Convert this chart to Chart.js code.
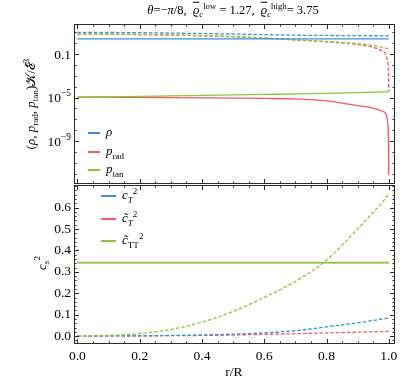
<!DOCTYPE html>
<html>
<head>
<meta charset="utf-8">
<script src="https://cdn.jsdelivr.net/npm/chart.js@4.4.1/dist/chart.umd.min.js"></script>
<style>
  body { margin: 0; background: #fff; }
  #wrap { position: relative; width: 407px; height: 384px; overflow: hidden; font-family: 'Liberation Serif', serif; color: #000; }
  canvas { position: absolute; left: 0; }
  .lbl { position: absolute; white-space: nowrap; line-height: 1; }
  .rot { transform: translate(-50%, -50%) rotate(-90deg); }
  .leg { position: absolute; font-size: 13px; white-space: nowrap; line-height: 1; }
  .leg span.sw { display: inline-block; vertical-align: middle; height: 1.3px; margin-right: 6px; }
  sub, sup { font-size: 70%; line-height: 0; }
  .ov { text-decoration: overline; }
</style>
</head>
<body>
<div id="wrap">
  <canvas id="topChart" width="407" height="190" style="top:0"></canvas>
  <canvas id="botChart" width="407" height="210" style="top:174px"></canvas>

  <div class="lbl" style="left:233px; top:10px; transform:translate(-50%,-50%); font-size:12.5px;">
    <i>θ</i>=−<i>π</i>/8,&nbsp; <i class="ov">ϱ</i><sub><i>c</i></sub><sup>low</sup> = 1.27,&nbsp; <i class="ov">ϱ</i><sub><i>c</i></sub><sup>high</sup>= 3.75
  </div>

  <div class="lbl rot" style="left:30px; top:104px; font-size:13px;">
    (<i>ρ</i>, <i>p</i><sub>rad</sub>, <i>p</i><sub>tan</sub>)𝒦/ℰ<sup>3</sup>
  </div>
  <div class="lbl rot" style="left:41px; top:263px; font-size:13px;">
    <i>c</i><sub><i>s</i></sub><sup>2</sup>
  </div>
  <div class="lbl" style="left:234px; top:372px; transform:translate(-50%,-50%); font-size:13.5px;">r/R</div>

  <div class="leg" style="left:88px; top:125px;"><span class="sw" style="width:12px;background:#3b8fd3"></span><i>ρ</i></div>
  <div class="leg" style="left:88px; top:144px;"><span class="sw" style="width:12px;background:#f45b66"></span><i>p</i><sub>rad</sub></div>
  <div class="leg" style="left:88px; top:162px;"><span class="sw" style="width:12px;background:#8cc63f"></span><i>p</i><sub>tan</sub></div>

  <div class="leg" style="left:101px; top:188px;"><span class="sw" style="width:15px;background:#3b8fd3"></span><i>c</i><sub><i>T</i></sub><sup>2</sup></div>
  <div class="leg" style="left:101px; top:211px;"><span class="sw" style="width:15px;background:#f45b66"></span><i>c̃</i><sub><i>T</i></sub><sup>2</sup></div>
  <div class="leg" style="left:101px; top:233px;"><span class="sw" style="width:15px;background:#8cc63f"></span><i>c̃</i><sub>TT</sub><sup>2</sup></div>
</div>

<script>
// radial grid r/R shared by all curves
const rGrid = [0, 0.1, 0.2, 0.3, 0.4, 0.5, 0.6, 0.7, 0.8, 0.9, 0.95, 0.98, 0.99, 0.995, 0.999, 1.0];

// top panel (log scale), solid = low density, dashed = high density
const rhoLow   = [2.5, 2.5, 2.5, 2.5, 2.5, 2.5, 2.5, 2.5, 2.5, 2.5, 2.5, 2.5, 2.5, 2.5, 2.5, 2.5];
const rhoHigh  = [10, 9.8, 9.3, 8.6, 7.8, 7.0, 6.2, 5.5, 5.2, 5.0, 4.9, 4.85, 4.8, 4.8, 4.8, 4.8];
const pRadLow  = [1.1e-5, 1.08e-5, 1.05e-5, 1.0e-5, 9.5e-6, 9.0e-6, 8.4e-6, 7.6e-6, 5.0e-6, 1.8e-6, 1.1e-6, 5.5e-7, 3.5e-7, 1e-7, 1e-9, 8e-13];
const pRadHigh = [6.8, 6.7, 6.3, 5.7, 4.9, 4.0, 3.0, 2.0, 1.35, 0.75, 0.42, 0.18, 0.1, 0.03, 0.002, 3.7e-5];
const pTanLow  = [1.1e-5, 1.2e-5, 1.3e-5, 1.45e-5, 1.6e-5, 1.75e-5, 1.95e-5, 2.15e-5, 2.45e-5, 2.85e-5, 3.1e-5, 3.3e-5, 3.4e-5, 3.45e-5, 3.5e-5, 3.5e-5];
const pTanHigh = [6.8, 6.7, 6.3, 5.7, 4.9, 4.0, 3.0, 2.0, 1.45, 0.9, 0.62, 0.42, 0.36, 0.32, 0.3, 0.29];

// bottom panel, sound speeds squared
const cT2Low   = [0.343, 0.343, 0.343, 0.343, 0.343, 0.343, 0.343, 0.343, 0.343, 0.343, 0.343, 0.343, 0.343, 0.343, 0.343, 0.343];
const cTt2Low  = [0.343, 0.343, 0.343, 0.343, 0.343, 0.343, 0.343, 0.343, 0.343, 0.343, 0.343, 0.343, 0.343, 0.343, 0.343, 0.343];
const cTT2Low  = [0.343, 0.343, 0.343, 0.343, 0.343, 0.343, 0.343, 0.343, 0.343, 0.343, 0.343, 0.343, 0.343, 0.343, 0.343, 0.343];
const cT2High  = [0, 0.0005, 0.001, 0.003, 0.005, 0.009, 0.015, 0.025, 0.043, 0.062, 0.073, 0.08, 0.082, 0.083, 0.085, 0.085];
const cTt2High = [0, 0.0005, 0.001, 0.002, 0.003, 0.005, 0.008, 0.011, 0.015, 0.018, 0.02, 0.021, 0.022, 0.022, 0.022, 0.022];
const cTT2High = [0, 0.003, 0.012, 0.031, 0.065, 0.115, 0.18, 0.255, 0.355, 0.5, 0.578, 0.625, 0.645, 0.655, 0.665, 0.67];

// ticks
const xTickVals = [0, 0.2, 0.4, 0.6, 0.8, 1.0];
const topTickVals = [0.1, 1e-5, 1e-9];
const topTickLabels = [['0.1', ''], ['10', '−5'], ['10', '−9']];
const botTickVals = [0, 0.1, 0.2, 0.3, 0.4, 0.5, 0.6];

const BLUE = '#3b8fd3', RED = '#f45b66', GREEN = '#8cc63f';
const FONT = "'Liberation Serif', serif";

const pts = arr => rGrid.map((r, i) => ({ x: r, y: arr[i] }));
const ds = (arr, color, dashed, width) => ({
  data: pts(arr), borderColor: color, borderWidth: width || 1.3, pointRadius: 0,
  borderDash: dashed ? [3.5, 2] : [], cubicInterpolationMode: 'monotone', fill: false
});

const range = (a, b, step) => { const out = []; for (let v = a; v <= b + 1e-9; v += step) out.push(+v.toFixed(4)); return out; };

// frame with inward ticks, like the reference
const framePlugin = {
  id: 'frame',
  afterDraw(chart, args, o) {
    const { ctx, chartArea: a, scales: { x, y } } = chart;
    ctx.save();
    ctx.strokeStyle = '#2a2a2a';
    ctx.lineWidth = 1;
    ctx.strokeRect(Math.round(a.left) + 0.5, Math.round(a.top) + 0.5, Math.round(a.right - a.left) - 1, Math.round(a.bottom - a.top) - 1);
    ctx.beginPath();
    const xt = (v, len) => {
      const px = Math.round(x.getPixelForValue(v)) + 0.5;
      ctx.moveTo(px, a.bottom); ctx.lineTo(px, a.bottom - len);
      ctx.moveTo(px, a.top); ctx.lineTo(px, a.top + len);
    };
    const yt = (v, len) => {
      const py = Math.round(y.getPixelForValue(v)) + 0.5;
      if (py < a.top || py > a.bottom) return;
      ctx.moveTo(a.left, py); ctx.lineTo(a.left + len, py);
      ctx.moveTo(a.right, py); ctx.lineTo(a.right - len, py);
    };
    o.xMinor.forEach(v => xt(v, 2.5));
    o.xMajor.forEach(v => xt(v, 5));
    o.yMinor.forEach(v => yt(v, 2.5));
    o.yMajor.forEach(v => yt(v, 5));
    ctx.stroke();

    if (o.logLabels) {
      ctx.fillStyle = '#000';
      ctx.textBaseline = 'middle';
      topTickVals.forEach((v, i) => {
        const py = y.getPixelForValue(v);
        const [base, exp] = topTickLabels[i];
        ctx.font = '13.5px ' + FONT;
        const bw = ctx.measureText(base).width;
        ctx.font = '9.5px ' + FONT;
        const ew = exp ? ctx.measureText(exp).width : 0;
        const right = a.left - 3;
        ctx.font = '13.5px ' + FONT;
        ctx.textAlign = 'left';
        ctx.fillText(base, right - ew - bw, py + 1);
        if (exp) {
          ctx.font = '9.5px ' + FONT;
          ctx.fillText(exp, right - ew, py - 4);
        }
      });
    }
    ctx.restore();
  }
};

const xScaleBase = { type: 'linear', min: -0.011, max: 1.02 };

new Chart(document.getElementById('topChart'), {
  type: 'line',
  data: {
    datasets: [
      ds(pTanLow, GREEN, false),
      ds(pRadLow, RED, false),
      ds(rhoLow, BLUE, false),
      ds(pTanHigh, GREEN, true),
      ds(pRadHigh, RED, true),
      ds(rhoHigh, BLUE, true)
    ]
  },
  options: {
    responsive: false, animation: false,
    layout: { padding: { left: 0, right: 12, top: 24, bottom: 6 } },
    plugins: {
      legend: { display: false }, tooltip: { enabled: false },
      frame: {
        xMinor: range(0, 1, 0.05), xMajor: xTickVals,
        yMinor: range(-13, 1, 1).map(e => Math.pow(10, e)), yMajor: topTickVals,
        logLabels: true
      }
    },
    scales: {
      x: { ...xScaleBase, display: false },
      y: {
        type: 'logarithmic', min: Math.pow(10, -12.95), max: Math.pow(10, 1.77),
        grid: { display: false }, border: { display: false },
        ticks: { display: false },
        afterFit: s => { s.width = 74; }
      }
    }
  },
  plugins: [framePlugin]
});

new Chart(document.getElementById('botChart'), {
  type: 'line',
  data: {
    datasets: [
      ds(cTT2Low, GREEN, false, 1.7),
      ds(cTt2Low, RED, false, 0.8),
      ds(cT2Low, BLUE, false, 0.8),
      ds(cTT2High, GREEN, true),
      ds(cT2High, BLUE, true),
      ds(cTt2High, RED, true)
    ]
  },
  options: {
    responsive: false, animation: false,
    layout: { padding: { left: 0, right: 12, top: 4, bottom: 0 } },
    plugins: {
      legend: { display: false }, tooltip: { enabled: false },
      frame: {
        xMinor: range(0, 1, 0.05), xMajor: xTickVals,
        yMinor: range(-0.02, 0.7, 0.02), yMajor: botTickVals,
        logLabels: false
      }
    },
    scales: {
      x: {
        ...xScaleBase,
        grid: { display: false, drawTicks: false }, border: { display: false },
        afterBuildTicks: s => { s.ticks = xTickVals.map(v => ({ value: v })); },
        ticks: { color: '#000', padding: 4, maxRotation: 0, font: { family: FONT, size: 13.5 }, callback: v => v.toFixed(1) },
        afterFit: s => { s.height = 40; }
      },
      y: {
        type: 'linear', min: -0.037, max: 0.705,
        grid: { display: false, drawTicks: false }, border: { display: false },
        afterBuildTicks: s => { s.ticks = botTickVals.map(v => ({ value: v })); },
        ticks: { color: '#000', padding: 3, font: { family: FONT, size: 13.5 }, callback: v => v.toFixed(1) },
        afterFit: s => { s.width = 74; }
      }
    }
  },
  plugins: [framePlugin]
});
</script>
</body>
</html>
